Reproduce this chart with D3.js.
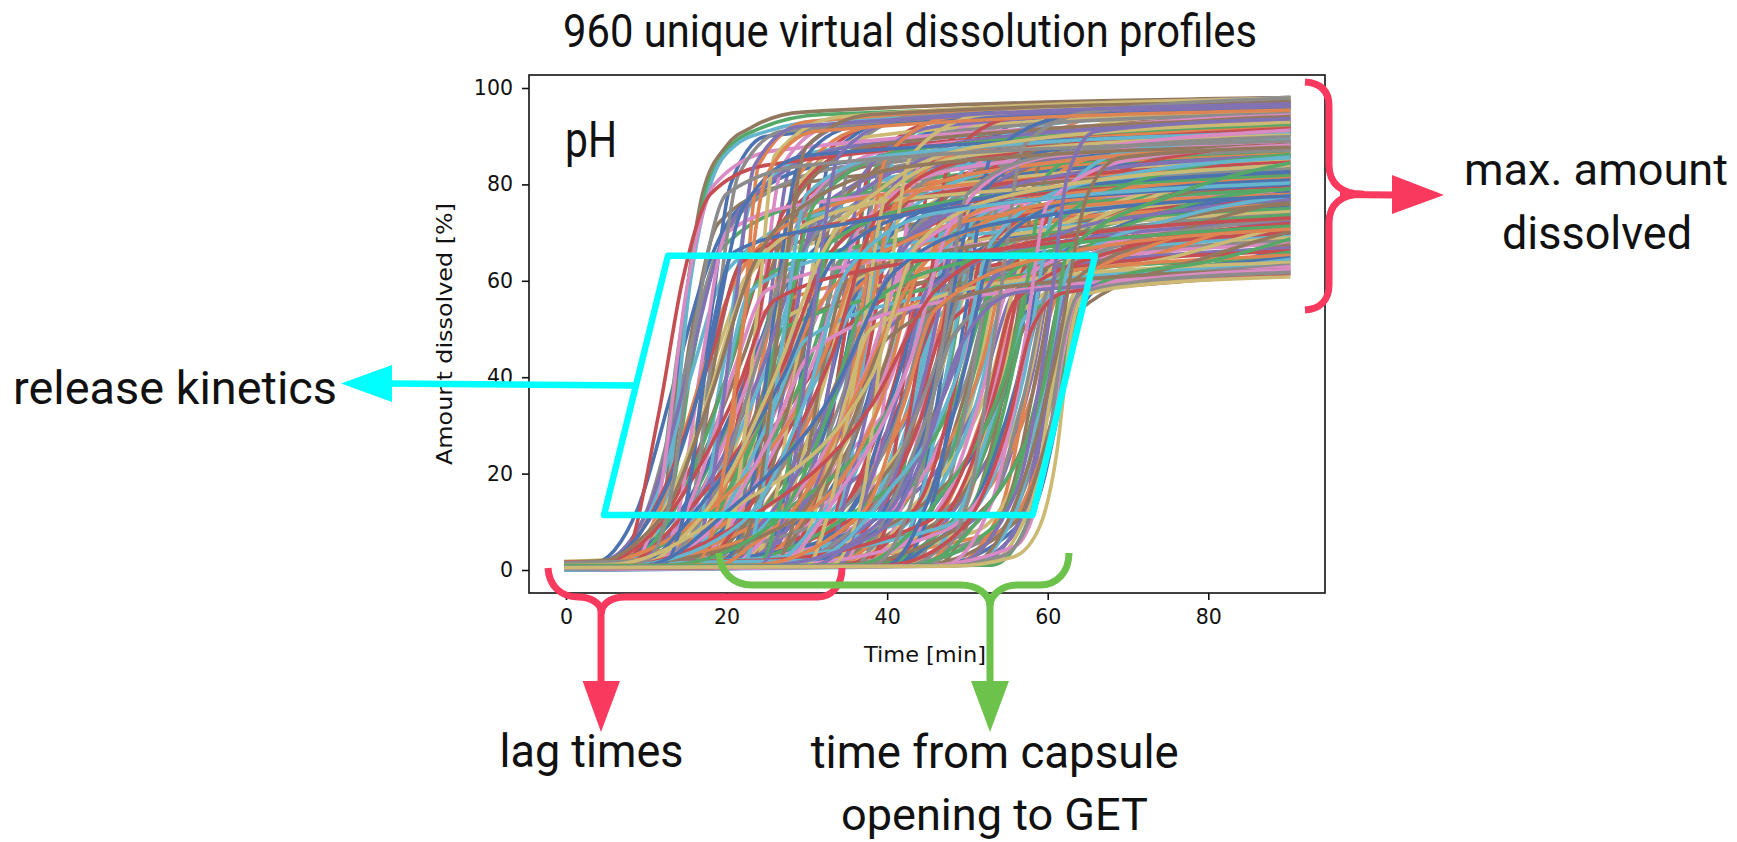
<!DOCTYPE html>
<html><head><meta charset="utf-8">
<script src="https://cdnjs.cloudflare.com/ajax/libs/d3/7.8.5/d3.min.js"></script>
<style>html,body{margin:0;padding:0;background:#fff;overflow:hidden}svg{display:block}</style>
</head><body><svg id="c" width="1737" height="842"></svg>
<script>
const openingEarly = [
[0.5,9,1,12,12,14.6,52,17,78,20,88,23.3,92,29.5,95,98],[1,8,1.5,11,10,14,46,17,76,20,87,24,91.5,32,94.5,96.5],[0.3,9,1,12.5,15,15.5,60,18,80,21,88,25,91,34,93.5,95],
[0.6,8,1.2,11.5,14,15,58,18.5,80,26,87,93.5],[0.2,7,2,11.5,32,14.5,60,18,78,25,84,92],[0,3.4,0.5,13,19,18,46,22,75,30,86,90.5],
[1.5,10,2,13,15,16,50,20,78,30,84,89],[0.8,9,1,12,10,15.5,48,19,72,28,80,87.5],[0.4,10,1,13,14,16,46,19,66,30,76,86],
[1.2,6,2,11,14,15.5,40,20,62,32,74,84.5],[0,11,1,14,12,17,44,20,70,30,76,83],[0.7,5,1.5,12,16,18,44,22,64,34,72,81.5],
[0.2,12,1,15,14,18,48,21,66,32,71,80],[1.8,8,2.5,14,18,19,46,23,62,34,69,78.5],[0.5,13,1.2,16,16,19,48,22,64,36,70,77],
[0.1,7,1,14,14,20,40,24,60,36,67,75.5],[1,14,1.5,17,12,20,40,23,58,36,66,74],[0.3,10,1,16,16,21,42,25,58,38,64,72.5],
[0.9,4,1.2,13,12,21,36,26,56,40,63,71],[0.4,15,1,18,14,22,38,25,54,40,61,69.5],[0,11,1,17,10,23,34,27,52,42,60,68],
[1.4,6,2,16,10,23,30,28,50,42,59,66.5],[0.2,16,1,19,12,24,32,27,50,44,58,65],[0.6,12,1,19,10,25,30,30,48,46,57,63.5],
[0.1,8,1,18,8,25,26,31,46,48,56,62]];
const openingMid = [
[0.4,18,1,22,14,25,50,28,84,36,93,98],[1,10,1.5,19,12,25,48,29,82,38,92,96.8],[0.2,16,1,21,12,26,50,29,80,38,90,95.3],
[0.7,20,1,23,14,26,46,29,78,38,88,93.8],[1.6,5,2,18,12,26,40,31,76,42,87,92.3],[0.3,22,1,24,12,27,48,30,78,40,86,90.8],
[0.1,12,1,22,14,27,40,31,72,42,84,89.3],[0.9,19,1.5,24,12,28,46,31,74,42,83,87.8],[0.5,7,1,20,10,28,38,33,68,44,80,86.3],
[1.1,23,1.5,26,14,29,46,32,70,44,79,84.8],[0.2,15,1,24,14,29,42,33,66,44,77,83.3],[0.6,24,1,27,16,30,44,33,68,46,76,81.8],
[0,9,1,22,10,30,36,35,62,46,74,80.3],[1.3,18,2,26,12,31,40,34,64,48,73,78.8],[0.4,25,1,28,14,31,42,34,62,48,71,77.3],
[0.8,3,1.2,20,10,31,34,36,58,50,70,75.8],[0.1,20,1,27,12,32,38,36,60,50,68,74.3],[1,26,1.5,29,14,32,42,35,60,50,67,72.8],
[0.3,13,1,26,10,33,34,37,54,50,64,71.3],[0.7,27,1,30,14,33,40,36,56,52,64,69.8],[0,17,1,28,10,34,34,38,52,52,62,68.3],
[1.5,6,2,24,10,34,28,40,50,54,61,66.8],[0.2,22,1,30,12,35,34,38,50,54,60,65.3],[0.5,28,1,31,12,35,36,38,50,56,60,63.8],
[0.9,10,1.5,28,10,35,28,40,48,56,59,62.3]];
const openingCentral = [
[0.3,26,1,31,14,35,52,38,84,46,93,97.7],[1,14,1.5,28,14,35,46,39,82,48,92,96.2],[0.1,28,1,32,14,36,50,39,82,48,91,94.7],
[0.6,20,1,30,14,36,44,40,78,50,89,93.2],[1.7,8,2,26,12,36,38,41,76,50,87,91.7],[0.4,30,1,33,14,37,50,40,78,50,86,90.2],
[0.8,17,1,31,14,37,42,41,72,50,84,88.7],[0.2,31,1,34,14,38,48,41,74,52,83,87.2],[1.2,11,1.5,29,10,38,38,42,68,52,81,85.7],
[0.5,24,1,33,14,38,42,42,68,52,79,84.2],[0,32,1,35,16,39,44,42,68,54,78,82.7],[0.7,5,1,28,10,39,34,44,62,54,76,81.2],
[0.3,21,1,34,14,40,40,44,64,54,74,79.7],[1,33,1.5,36,14,40,44,43,64,56,73,78.2],[0.1,15,1,33,10,40,34,45,60,56,71,76.7],
[0.6,27,1,36,14,41,38,45,58,58,70,75.2],[1.4,9,2,32,10,41,30,46,56,58,68,73.7],[0.2,34,1,37,14,42,40,45,58,58,67,72.2],
[0.9,23,1,37,12,42,34,46,54,60,65,70.7],[0.4,35,1,38,12,43,36,46,52,60,64,69.2],[0,19,1,37,10,43,30,47,50,60,63,67.7],
[1.1,30,1.5,39,12,44,34,47,50,60,62,66.2],[0.3,12,1,36,8,44,26,48,48,56,58,66,60.5,64.7],[0.7,36,1,40,12,45,32,48,48,56,58,66,60,63.2],
[0.5,25,1,39,8,45,26,49,46,56,57.5,66,59,61.7]];
const openingLate = [
[0.2,36,1,41,14,45,50,48,84,56,93,97.5],[1,22,1.5,38,14,45,46,49,82,58,92,95.9],[0.4,37,1,42,14,46,50,49,80,58,90,94.4],
[0.7,16,1,37,12,46,42,50,76,58,88,92.9],[1.5,30,2,41,12,46,40,51,76,60,87,91.4],[0.1,38,1,43,14,47,48,50,78,60,86,89.9],
[0.5,10,1,36,10,47,38,51,70,60,83,88.4],[0.9,32,1,42,14,48,44,51,72,62,83,86.9],[0.2,39,1,44,14,48,46,51,70,62,81,85.4],
[1.3,20,2,40,12,49,38,53,68,62,79,83.9],[0.6,34,1,44,14,49,42,52,66,64,78,82.4],[0,40,1,45,14,50,44,53,66,64,77,80.9],
[0.8,6,1,38,8,50,32,54,60,64,74,79.4],[0.3,28,1,44,12,50,38,54,62,66,73,77.9],[1,41,1.5,46,14,51,42,54,62,66,71,76.4],
[0.1,14,1,42,10,51,34,55,58,66,69,74.9],[0.5,35,1,46,12,52,38,55,58,68,68,73.4],[1.6,24,2,45,10,52,32,56,56,68,66,71.9],
[0.2,42,1,47,12,53,38,56,56,70,65,70.4],[0.7,31,1,47,10,53,32,57,54,70,64,68.9],[0,18,1,44,8,53,28,57,50,64,59,72,62,67.4],
[1.1,38,1.5,48,10,54,34,57,52,64,58.5,72,61,65.9],[0.4,43,1,49,12,54,36,57,52,62,58,72,60.5,64.4],[0.8,26,1,47,8,55,28,58,50,62,58,72,60,62.9],
[0.3,40,1,49,8,55,30,58,50,62,57.5,74,59.5,61.4]];
const openingFinal = [
[0.2,44,1,50,14,55,52,58,86,66,94,97.3],[1,30,1.5,48,12,55,46,59,84,68,93,95.6],[0.4,46,1,51,14,56,50,59,84,68,91,94.1],
[0.7,38,1,50,12,56,44,60,82,70,90,92.6],[1.4,20,2,49,10,57,40,61,76,70,87,89.6],[0.1,47,1,53,14,57,46,60,76,70,85,88.1],
[0.6,36,1,52,12,58,40,62,72,72,82,85.1],[0.9,48,1,54,12,58,42,62,72,72,80,83.6],[0.2,25,1,51,8,59,34,63,66,74,78,82.1],
[1.2,49,1.5,55,14,59,44,62,68,74,77,80.6],[0.4,42,1,54,10,59,38,63,64,76,75,79.1],[0,50,1,56,12,60,42,63,64,76,73,77.6],
[0.8,34,1,54,8,60,32,64,58,78,71,76.1],[0.3,51,1,57,12,60,40,63,60,78,70,74.6],[1.6,28,2,54,8,61,34,64,56,78,68,73.1],
[0.5,52,1,58,14,61,42,63.5,58,78,66,71.6],[0.1,44,1,56,10,61,34,64,54,80,65,70.1],[0.9,53,1,58,12,62,42,64,56,68,60.5,80,64,68.6],
[0.2,46,1,58,12,62,38,64,54,68,60,80,62.5,67.1],[0.6,40,1,54,8,59,30,62,52,66,59,80,62.5,65.6],[1,50,1.5,57,10,60,36,62.5,54,66,59,80,62,64.1]];
const upperKnees = [
[0.3,14,1,19,10,22,50,24,84,30,93,97.6],[0.6,17,1,21,14,24,56,26,86,34,94,97.9],[0.2,20,1,24,16,27,58,30,88,38,94.5,97.2],
[0.9,12,1,22,12,28,52,31,84,40,93,96.4],[0.4,23,1,27,14,30,50,33,86,42,94,97.4],[0.1,26,1,30,16,33,60,36,88,44,94.5,97.8],
[0.7,21,1,29,12,34,50,37,82,46,92,96],[0.5,29,1,33,14,37,56,40,86,48,94,97],[0.3,33,1,37,16,40,56,43,86,52,94.5,97.6],
[1.1,16,1.5,32,12,41,50,44,82,54,92,96.6],[0.2,36,1,40,14,43,54,46,86,54,94,97.1],[0.6,40,1,44,14,48,54,51,86,60,95,97.7],
[0.4,43,1,47,14,52,54,55,88,64,95,98],[0.8,24,1,38,10,44,36,49,70,58,84,91],[0.2,4,1,16,10,32,44,38,70,50,82,88],
[1,6,1.2,20,12,38,40,44,68,56,78,84],[0.5,8,1,24,12,44,44,50,66,62,76,80],[0.3,3,1,12,6,26,30,36,52,50,62,70],
[0.2,12,1,15,14,18,52,20.5,80,25,90,96],[0.5,13,1,16,16,19,56,21.5,82,27,91,96.9],[0.8,15,1,18,16,21,54,23.5,84,29,92,96.2],
[0.3,16,1,19,14,22,50,25,82,31,91,95.4],[0.6,11,1,16,14,20,46,23,76,32,87,93.2],[0.1,18,1,21,12,24,50,27,84,33,92,95.8],
[0.7,14,1,19,14,23,44,27,74,36,87,92.4],[0.4,19,1,23,16,26,54,29,84,36,92,95.6],[0.9,10,1,18,14,24,44,29,72,38,85,91],
[0.2,24,1,28,18,31,56,34,86,42,93.5,96.7],[0.5,27,1,31,14,35,52,38,82,46,92,95.8],[0.3,30,1,35,18,38,56,41,86,50,94,97],
[0.6,34,1,38,16,41,54,44,84,52,93,96.3],[0.1,37,1,41,16,45,56,48,86,56,94,97.2],[0.7,41,1,46,16,50,56,53,86,62,94,97.1],
[0.4,45,1,50,14,54,56,57,88,65,95,97.9]];
const slowRisers = [
[0.4,6,1,14,14,22,44,28,72,38,84,90.2],[1,8,1.5,16,16,24,46,29,70,40,80,86.6],[0.2,10,1,17,14,25,42,31,70,42,82,88.6],
[0.7,11,1,18,20,25,50,30,76,40,87,93],[0.3,7,1,15,12,26,38,33,66,46,78,84.6],[1.3,9,1.5,17,14,27,40,34,66,48,76,82.6],
[0.1,12,1,20,14,28,44,34,72,46,84,90],[0.6,13,1,20,16,29,46,34,76,46,88,94.6],[0.9,14,1,21,14,30,42,36,70,48,80,86],
[0.4,5,1,16,10,30,36,38,60,52,72,78],[0.2,15,1,23,16,31,44,37,72,48,83,89],[1,16,1.2,24,16,33,44,39,74,50,85,91.6],
[0.5,10,1,20,12,33,36,41,62,54,72,77.6],[0.3,17,1,25,14,34,40,40,68,52,80,85],[0.7,18,1,26,16,35,44,41,74,52,86,92.6],
[0.1,14,1,24,12,36,36,43,62,56,74,79],[1.2,19,1.5,28,18,36,46,41,72,54,83,88],[0.4,20,1,28,14,37,40,43,66,56,76,81],
[0.6,8,1,22,10,38,34,46,58,58,68,73],[0.2,21,1,30,16,38,42,44,70,54,84,90.6],[0.8,22,1,30,14,39,40,45,66,56,78,83],
[0.3,24,1,32,16,40,44,45,72,56,86,92],[1.1,13,1.5,27,12,41,36,47,60,60,70,75],[0.5,25,1,33,14,42,40,47,66,58,78,84],
[0.1,26,1,34,16,43,44,48,72,58,85,91.2],[0.7,16,1,30,12,44,36,49,60,60,70,75.6],[0.4,27,1,36,16,45,42,50,68,60,80,86],
[0.9,28,1,36,14,46,38,51,62,62,72,78],[0.2,29,1,38,16,47,44,51,72,60,85,90.8],[0.6,18,1,34,10,48,34,53,58,64,68,73.6],
[1.4,30,2,40,16,49,42,53,68,64,80,85.6],[0.3,31,1,41,14,50,40,54,64,64,76,82],[0.5,20,1,38,10,51,34,56,58,68,68,74],
[0.1,33,1,43,16,52,44,56,72,66,86,92.2],[0.8,34,1,44,14,53,40,57,64,68,76,82.6],[0.4,22,1,41,10,54,36,58,60,70,70,76],
[0.2,36,1,46,14,55,42,59,68,70,80,86.2],[1,37,1.5,47,16,56,44,59.5,70,72,84,90.4],[0.6,26,1,45,10,56,36,60,58,72,70,76.6],
[0.3,39,1,49,14,57,42,60,64,72,76,82.4],[0.7,30,1,48,10,58,36,61,56,74,68,74.4],[0.1,41,1,51,14,58,42,61,66,74,78,84],
[0.5,34,1,50,10,59,36,62,58,76,70,76.8],[0.9,43,1,52,12,60,42,62.5,66,76,78,84.4]];
const gentleOnsets = [
[0.3,3,1,6,4,9,13,13,36,17,60,21,74,32,84,90.4],[0.6,4,1,7,4,10,12,14,36,18,62,23,76,36,84,88.9],[1,4,1.5,8,6,11,16,15,40,19,66,25,80,36,88,93.4],
[0.2,5,1,8,4,11,10,15,30,20,56,26,70,40,78,83.7],[0.5,4,0.8,8,4,12,12,17,32,22,58,28,70,42,77,81.1],[1.4,5,2,9,6,13,14,18,36,23,62,30,76,44,84,88.1],
[0.1,6,1,10,6,14,16,20,40,25,66,32,80,46,88,93.7],[0.8,6,1,10,5,15,14,21,34,27,58,34,70,48,76,79.9],[0.4,7,1,11,5,16,14,22,36,28,62,36,76,48,83,87.1],
[0.2,8,1,12,6,17,16,24,40,30,68,38,80,50,87,92.1],[0.6,9,1,13,5,18,13,25,34,32,56,42,68,56,74,77.9],[1.1,10,1.5,14,6,19,16,26,40,32,66,40,80,52,88,92.9],
[0.3,11,1,15,5,21,16,28,40,35,66,44,78,58,84,87.4],[0.5,12,1,16,5,22,14,30,36,37,60,46,72,60,78,81.7],[0.7,13,1,17,5,23,14,31,36,38,64,48,78,60,85,89.1],
[0.1,15,1,19,5,25,16,32,40,38,68,46,82,60,89,93.1],[0.4,17,1,21,5,27,15,34,38,41,64,50,76,62,82,85.9],[0.9,19,1,23,5,29,14,36,36,43,60,52,72,64,77,80.1],
[0.2,21,1,25,5,31,16,38,40,44,68,54,82,66,88,91.9],[0.6,23,1,27,5,33,15,40,38,46,64,56,76,68,81,84.7],[0.3,25,1,29,5,35,14,42,36,48,60,58,72,70,77,79.6],
[1,27,1.5,31,5,37,16,43,40,49,70,58,84,70,89,92.3],[0.5,29,1,33,5,39,15,45,38,51,64,60,76,72,81,83.2],[0.1,31,1,35,5,41,14,47,36,53,60,62,70,74,74,76.9],
[0.7,33,1,37,5,43,16,49,42,54,70,64,84,76,89,91.3],[0.4,35,1,39,5,45,15,51,38,56,62,66,74,78,78,80.3],[0.2,37,1,41,5,47,14,53,36,57,58,66,66,78,71,73.9],
[0.8,39,1,43,5,49,16,54,40,58,68,68,82,80,87,88.9],[0.3,41,1,45,5,51,14,56,38,59.5,62,70,72,80,76,78.3],[0.6,43,1,47,5,53,14,57,36,60.5,60,70,68,80,71,72.9]];
// the profiles left on top in the picture
const topProfiles = [
[0.5,48,1,56,16,60,50,62.5,82,66,91,93.6],[0.3,50,1,56,14,61,44,65,78,69,85.5,87.7],
[0.4,44,0.8,56,5,60,24,62,46,63.5,56,68,59.5,62.3],[0.5,47,0.8,54.5,3,58,12,60.2,28,61.8,46,63.8,57,70,59.5,61.7],
[0.5,48,0.8,55.7,2.7,59,9,61.1,24,62.8,48,64.5,57,72,59.2,60.8]];
const profileColors = ["#4c72b0","#dd8452","#55a868","#c44e52","#8172b3","#937860","#da8bc3","#8c8c8c","#ccb974","#64b5cd"];
const timeTicks = [0,20,40,60,80];
const amountTicks = [0,20,40,60,80,100];

const W = {left:529,right:1325,top:75,bottom:593};
const x = d3.scaleLinear().domain([0,80]).range([566,1208.3]);
const y = d3.scaleLinear().domain([0,100]).range([570,88]);
const svg = d3.select("#c");

const toPoints = r => {
  const p=[[0,r[0]]];
  for(let i=1;i<r.length-1;i+=2)p.push([r[i],r[i+1]]);
  p.push([90,r[r.length-1]]);
  return p;
};
const pool = [...openingEarly,...openingMid,...openingCentral,...openingLate,...openingFinal,...upperKnees,...slowRisers,...gentleOnsets];
const order = d3.range(pool.length).sort((a,b)=>((a*37)%pool.length)-((b*37)%pool.length));
const curves = [...order.map(i=>pool[i]),...topProfiles].map(toPoints);
const line = d3.line().x(d=>x(d[0])).y(d=>y(d[1])).curve(d3.curveMonotoneX);
const shift = (8-(curves.length-1)%10+10)%10;
svg.append("g").selectAll("path").data(curves).join("path")
  .attr("d",line).attr("fill","none").attr("stroke-width",3.6).attr("stroke-linecap","square")
  .attr("stroke",(d,i)=>profileColors[(i+shift)%10]);

// frame and axes
const axisFont = "'DejaVu Sans'";
svg.append("rect").attr("x",W.left).attr("y",W.top).attr("width",W.right-W.left).attr("height",W.bottom-W.top)
  .attr("fill","none").attr("stroke","#111").attr("stroke-width",1.6);
const ax = svg.append("g").attr("transform",`translate(0,${W.bottom})`).call(d3.axisBottom(x).tickValues(timeTicks).tickSize(7).tickPadding(9));
const ay = svg.append("g").attr("transform",`translate(${W.left},0)`).call(d3.axisLeft(y).tickValues(amountTicks).tickSize(7).tickPadding(9));
[ax,ay].forEach(g=>{g.select(".domain").remove();
  g.selectAll("line").attr("stroke","#111").attr("stroke-width",1.6);
  g.selectAll("text").attr("font-family",axisFont).attr("font-size",20.5).attr("fill","#111");});
svg.append("text").attr("x",864).attr("y",662).attr("textLength",122).attr("lengthAdjust","spacingAndGlyphs").attr("font-family",axisFont).attr("font-size",21).attr("fill","#111").text("Time [min]");
svg.append("text").attr("transform","translate(452,465) rotate(-90)").attr("textLength",262).attr("lengthAdjust","spacingAndGlyphs").attr("font-family",axisFont).attr("font-size",21).attr("fill","#111").text("Amount dissolved [%]");

// annotations
const CYAN="#00ffff",PINK="#f93a5e",GREEN="#6cc24a";
const stroke=(d,c,w)=>svg.append("path").attr("d",d).attr("fill","none").attr("stroke",c).attr("stroke-width",w).attr("stroke-linejoin","round");
const tri=(d,c)=>svg.append("path").attr("d",d).attr("fill",c);
stroke("M668,255.7L1095,255.7L1032.7,515L604,515Z",CYAN,6.5);
stroke("M636,385.5L388,383.5",CYAN,6.5);
tri("M341,383.5L392,365L392,402Z",CYAN);
stroke("M1305,82C1320,83 1329,90 1329,106L1329,165C1329,184 1342,194 1362,194C1342,194 1329,204 1329,223L1329,285C1329,300 1320,309 1305,310",PINK,7);
stroke("M1340,194.5L1394,195",PINK,7);
tri("M1392,175L1392,214L1444,195Z",PINK);
stroke("M548,568C549,585 560,597 578,597C592,597 601,604 601.5,612C602,604 611,597 625,597L818,597C832,597 842,585 842,568",PINK,7);
stroke("M601,606L601,684",PINK,7);
tri("M582.6,681L620,681L601,732Z",PINK);
stroke("M719,553C720,572 733,585 752,585L961,585C977,585 989,594 990,605C991,594 1003,585 1017,585L1040,585C1057,585 1069,572 1069,553",GREEN,7);
stroke("M990,600L990,684",GREEN,7);
tri("M971,681L1009,681L990,732Z",GREEN);

const notes=[
 ["960 unique virtual dissolution profiles",563,47,694,46],
 ["pH",565,157,52,50],
 ["release kinetics",13,404,324,47],
 ["max. amount",1464,185,264,45],
 ["dissolved",1502,249,190,47],
 ["lag times",499.5,767,184,47],
 ["time from capsule",810.7,768,368,47],
 ["opening to GET",841,830,307,45]];
svg.append("g").selectAll("text").data(notes).join("text")
 .attr("x",d=>d[1]).attr("y",d=>d[2]).attr("textLength",d=>d[3]).attr("lengthAdjust","spacingAndGlyphs")
 .attr("font-family","Roboto").attr("font-size",d=>d[4]).attr("fill","#111").text(d=>d[0]);
</script></body></html>
